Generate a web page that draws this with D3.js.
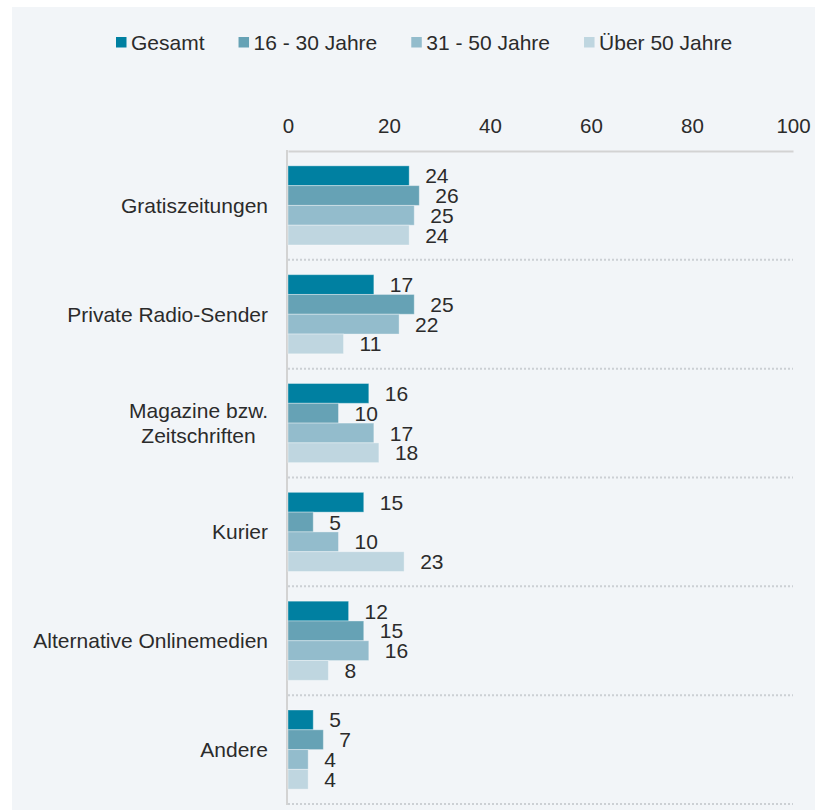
<!DOCTYPE html>
<html>
<head>
<meta charset="utf-8">
<script src="https://cdn.jsdelivr.net/npm/d3@7"></script>
<style>
  body { margin: 0; background: #fff; }
  svg { display: block; font-family: 'Liberation Sans', Arial, sans-serif; }
</style>
</head>
<body>
<svg id="chart" width="815" height="810"></svg>
<script>
var categories = [
  ['Gratiszeitungen'],
  ['Private Radio-Sender'],
  ['Magazine bzw.', 'Zeitschriften'],
  ['Kurier'],
  ['Alternative Onlinemedien'],
  ['Andere']
];
var seriesNames = ['Gesamt', '16 - 30 Jahre', '31 - 50 Jahre', 'Über 50 Jahre'];
var gesamt = [24, 17, 16, 15, 12, 5];
var jahre16to30 = [26, 25, 10, 5, 15, 7];
var jahre31to50 = [25, 22, 17, 10, 16, 4];
var jahre50plus = [24, 11, 18, 23, 8, 4];
var tickValues = [0, 20, 40, 60, 80, 100];

var colors = ['#0080a1', '#66a2b5', '#93bccc', '#bfd6e0'];
var textColor = '#2b2b2b';
var series = [gesamt, jahre16to30, jahre31to50, jahre50plus];

var svg = d3.select('#chart');

// panel background
svg.append('rect')
  .attr('x', 12).attr('y', 7)
  .attr('width', 803).attr('height', 803)
  .attr('fill', '#f2f5f8');

var x = d3.scaleLinear().domain([0, 100]).range([288, 793]);
var keys = categories.map(function(c) { return c.join(' '); });
var y = d3.scaleBand().domain(keys).range([151, 804]).padding(0);
var inner = d3.scaleBand().domain(d3.range(seriesNames.length))
  .range([0, y.bandwidth()]).paddingInner(0).paddingOuter(0.75);

// dotted separators
svg.append('g').selectAll('line')
  .data(keys)
  .join('line')
  .attr('x1', x(0)).attr('x2', x(100))
  .attr('y1', function(d) { return y(d) + y.bandwidth(); })
  .attr('y2', function(d) { return y(d) + y.bandwidth(); })
  .attr('stroke', '#ccd0d4')
  .attr('stroke-width', 2)
  .attr('stroke-dasharray', '2,2');

// top axis
var axis = svg.append('g')
  .attr('transform', 'translate(0,151)')
  .call(d3.axisTop(x).tickValues(tickValues).tickSize(0).tickSizeOuter(0).tickPadding(18));
axis.select('.domain').attr('stroke', '#d3d3d3').attr('stroke-width', 2);
axis.selectAll('text')
  .attr('fill', textColor)
  .style('font-size', '20.5px')
  .style('font-family', "'Liberation Sans', Arial, sans-serif");

// left axis line
svg.append('line')
  .attr('x1', 287).attr('x2', 287)
  .attr('y1', 150).attr('y2', 805)
  .attr('stroke', '#d3d3d3').attr('stroke-width', 2);

// bars and value labels
var rows = [];
keys.forEach(function(k, ci) {
  series.forEach(function(s, si) {
    rows.push({ cat: k, si: si, value: s[ci] });
  });
});

svg.append('g').selectAll('rect')
  .data(rows)
  .join('rect')
  .attr('x', x(0))
  .attr('y', function(d) { return y(d.cat) + inner(d.si); })
  .attr('width', function(d) { return x(d.value) - x(0); })
  .attr('height', inner.bandwidth())
  .attr('fill', function(d) { return colors[d.si]; })
  .attr('stroke', 'rgba(255,255,255,0.35)')
  .attr('stroke-width', 1);

svg.append('g').selectAll('text')
  .data(rows)
  .join('text')
  .attr('x', function(d) { return x(d.value) + 16; })
  .attr('y', function(d) { return y(d.cat) + inner(d.si) + inner.bandwidth() / 2; })
  .attr('dy', '0.36em')
  .attr('fill', textColor)
  .style('font-size', '21px')
  .text(function(d) { return d.value; });

// category labels (multi-line blocks right-aligned, lines centred within block)
var labelRight = 268;
var lineHeight = 25;
categories.forEach(function(lines, ci) {
  var cy = y(keys[ci]) + y.bandwidth() / 2;
  var t = svg.append('text')
    .attr('fill', textColor)
    .style('font-size', '21px')
    .attr('text-anchor', 'middle');
  var spans = lines.map(function(line, li) {
    return t.append('tspan')
      .attr('y', cy + (li - (lines.length - 1) / 2) * lineHeight)
      .attr('dy', '0.36em')
      .text(line);
  });
  var maxW = d3.max(spans, function(s) { return s.node().getComputedTextLength(); });
  spans.forEach(function(s) { s.attr('x', labelRight - maxW / 2); });
});

// legend
var lx = 116;
var legend = svg.append('g');
seriesNames.forEach(function(name, i) {
  legend.append('rect')
    .attr('x', lx).attr('y', 37)
    .attr('width', 10.5).attr('height', 10.5)
    .attr('fill', colors[i]);
  var txt = legend.append('text')
    .attr('x', lx + 15).attr('y', 50)
    .attr('fill', textColor)
    .style('font-size', '21px')
    .text(name);
  lx += 15 + txt.node().getComputedTextLength() + 34;
});
</script>
</body>
</html>
